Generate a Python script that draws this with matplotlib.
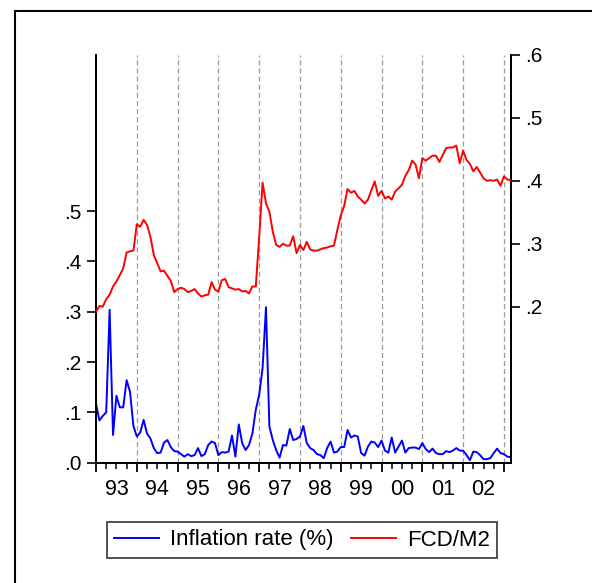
import numpy as np
import matplotlib
matplotlib.use('Agg')
import matplotlib.pyplot as plt
from matplotlib.patches import Rectangle

plt.rcParams['font.family'] = ['Liberation Sans', 'DejaVu Sans']

# monthly data, 1993:01 - 2003:03
inflation = [
    .117, .084, .093, .100, .304, .055, .133, .110, .110, .164, .141, .073,
    .052, .060, .085, .058, .048, .029, .019, .020, .040, .045, .031, .023,
    .022, .017, .012, .017, .013, .015, .029, .013, .017, .035, .042, .039,
    .015, .021, .020, .022, .054, .012, .076, .039, .025, .035, .058, .105,
    .135, .188, .309, .072, .045, .025, .010, .035, .034, .067, .045, .047,
    .052, .073, .039, .029, .025, .017, .015, .009, .029, .042, .020, .022,
    .031, .031, .065, .050, .054, .052, .019, .014, .032, .042, .040, .031,
    .044, .024, .020, .050, .020, .032, .044, .020, .029, .030, .030, .027,
    .039, .027, .021, .028, .019, .017, .017, .023, .021, .024, .029, .024,
    .024, .015, .005, .022, .021, .015, .007, .007, .009, .019, .028, .019,
    .017, .012, .011,
]
fcd_m2 = [
    .192, .201, .200, .212, .219, .232, .240, .250, .261, .286, .288, .289,
    .331, .327, .338, .330, .311, .282, .269, .256, .257, .249, .241, .223,
    .228, .230, .228, .223, .225, .228, .221, .216, .218, .219, .239, .227,
    .224, .242, .244, .231, .229, .227, .228, .224, .225, .221, .232, .232,
    .310, .397, .364, .351, .319, .298, .295, .300, .297, .297, .312, .285,
    .298, .290, .303, .291, .289, .289, .291, .293, .294, .296, .297, .322,
    .345, .360, .387, .381, .384, .375, .370, .364, .370, .385, .399, .376,
    .384, .372, .375, .370, .383, .388, .394, .408, .417, .432, .426, .404,
    .436, .432, .436, .440, .440, .430, .441, .452, .453, .453, .456, .428,
    .448, .433, .427, .415, .422, .413, .404, .400, .401, .400, .402, .392,
    .407, .402, .401,
]
start_year = 1993
year_labels = ['93', '94', '95', '96', '97', '98', '99', '00', '01', '02']
left_ticks = [0.0, 0.1, 0.2, 0.3, 0.4, 0.5]
left_labels = ['.0', '.1', '.2', '.3', '.4', '.5']
right_ticks = [0.2, 0.3, 0.4, 0.5, 0.6]
right_labels = ['.2', '.3', '.4', '.5', '.6']

t = start_year + np.arange(len(inflation)) / 12.0
years = np.arange(start_year, start_year + len(year_labels) + 1)

fig = plt.figure(figsize=(5.92, 5.83), dpi=100)
# outer frame (cut off at right and bottom like the original)
fig.add_artist(Rectangle((15 / 592, -0.05), 1.0, 0.9811 + 0.05, transform=fig.transFigure,
                         fill=False, edgecolor='black', lw=1.5))

ax = fig.add_axes([0.1622, 0.2064, 0.7005, 0.6993])
ax2 = ax.twinx()

for y in years[1:]:
    ax.axvline(y, color='#9a9a9a', lw=0.9, ls=(0, (4, 2.5)), zorder=0)

l1, = ax.plot(t, inflation, color='#0000ff', lw=1.4, zorder=3)
l2, = ax2.plot(t, fcd_m2, color='#ff0000', lw=1.4, zorder=3)

ax.set_xlim(t[0], t[-1])
ax.set_ylim(0, 0.8105)
ax2.set_ylim(-0.048, 0.6)

for a in (ax, ax2):
    a.spines['top'].set_visible(False)
    for s in a.spines.values():
        s.set_linewidth(1.4)

ax.set_yticks(left_ticks, left_labels)
ax2.set_yticks(right_ticks, right_labels)
ax.tick_params(axis='y', direction='out', length=6.5, width=1.2, labelsize=15, pad=4)
ax2.tick_params(axis='y', direction='out', length=6.5, width=1.2, labelsize=15, pad=4)

ax.set_xticks([y for y in years if y <= t[-1] + 1e-9])
ax.set_xticks(np.arange(start_year, t[-1] + 1e-9, 0.25), minor=True)
ax.tick_params(axis='x', which='major', direction='out', length=6.5, width=1.3, labelbottom=False)
ax.tick_params(axis='x', which='minor', direction='out', length=4.3, width=1.1)

sec = ax.secondary_xaxis('bottom')
sec.set_xticks(years[:-1] + 0.5, year_labels)
sec.tick_params(length=0, labelsize=15.5, pad=12)
sec.spines['bottom'].set_visible(False)

leg = fig.legend([l1, l2], ['Inflation rate (%)', 'FCD/M2'], loc='center',
                 bbox_to_anchor=(302 / 592, 1 - 540 / 583), ncol=2, frameon=True,
                 fancybox=False, edgecolor='black', fontsize=16, handlelength=2.0,
                 handletextpad=0.5, columnspacing=0.8, borderpad=0.35)
leg.get_frame().set_linewidth(1.2)

fig.savefig('out.png', dpi=100)
